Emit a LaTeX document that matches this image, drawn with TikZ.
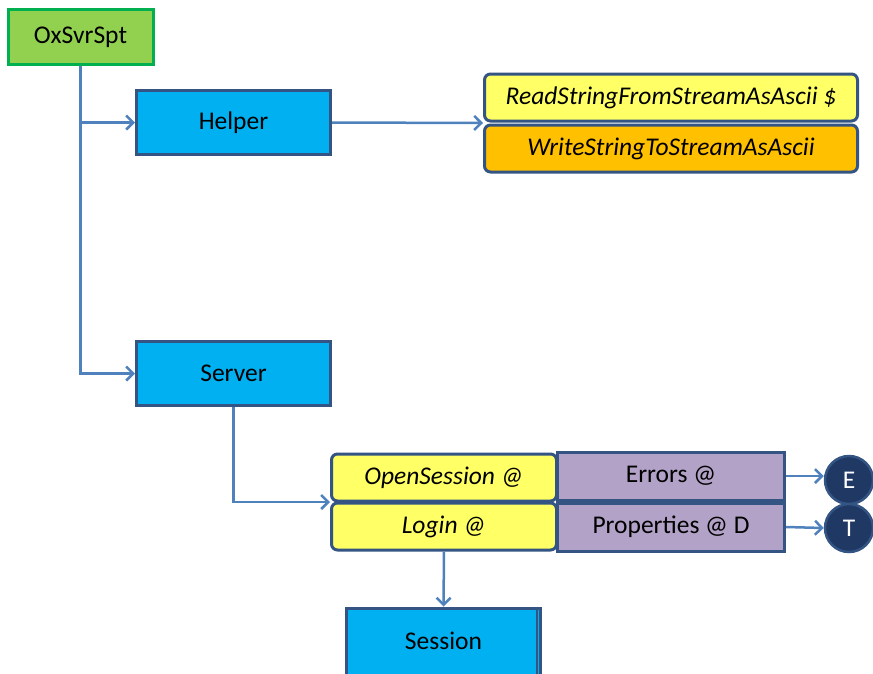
\documentclass[tikz,border=0pt]{standalone}
\usepackage{fontspec}
\setmainfont{Carlito}
\usepackage{xcolor}
\usepackage{tikz}
\usetikzlibrary{arrows.meta, positioning, calc}
\definecolor{linkblue}{RGB}{79,129,189}
\definecolor{edgeblue}{RGB}{52,84,132}
\definecolor{classblue}{RGB}{0,176,240}
\definecolor{rootgreen}{RGB}{146,208,80}
\definecolor{rootedge}{RGB}{0,176,80}
\definecolor{funcyellow}{RGB}{255,255,102}
\definecolor{funcorange}{RGB}{255,192,0}
\definecolor{proplilac}{RGB}{179,162,199}
\definecolor{extnavy}{RGB}{31,56,100}

\begin{document}
\begin{tikzpicture}[x=1pt, y=-1pt,
    every node/.style={font=\fontsize{25.5}{30}\selectfont, inner sep=0pt},
    rootbox/.style={draw=rootedge, fill=rootgreen, line width=3pt, minimum width=145, minimum height=55},
    classbox/.style={draw=edgeblue, fill=classblue, line width=3pt, minimum width=194, minimum height=64},
    funcbox/.style={draw=edgeblue, line width=3pt, rounded corners=6pt, minimum width=373, minimum height=47, font=\fontsize{25.5}{30}\selectfont\itshape},
    methbox/.style={draw=edgeblue, fill=funcyellow, line width=3pt, rounded corners=6pt, minimum width=225, minimum height=47, font=\fontsize{25.5}{30}\selectfont\itshape},
    propbox/.style={draw=edgeblue, fill=proplilac, line width=3pt, minimum width=227, minimum height=48},
    extnode/.style={circle, draw=edgeblue, fill=extnavy, line width=2.5pt, minimum size=48, text=white},
    link/.style={draw=linkblue, line width=2.5pt, -{Straight Barb[length=7pt, width=14pt]}}
]
    \useasboundingbox (0,0) rectangle (873,673);

    % Root
    \node[rootbox] (root) at (80.5,37) {OxSvrSpt};

    % Classes
    \node[classbox] (helper) at (233.5,122.5) {Helper};
    \node[classbox] (server) at (233.5,373.5) {Server};
    \node[classbox, minimum height=70] (session) at (443.5,643) {};
    \node at (443.5,641) {Session};
    \draw[draw=edgeblue, line width=1.5pt] ([xshift=-5pt]session.north east) -- ([xshift=-5pt]session.south east);

    % Helper functions
    \node[funcbox, fill=funcyellow] (readstr) at (671,97.5) {ReadStringFromStreamAsAscii \$};
    \node[funcbox, fill=funcorange] (writestr) at (671,148.5) {WriteStringToStreamAsAscii};

    % Server methods and properties
    \node[methbox] (opensess) at (444,477.5) {OpenSession @};
    \node[methbox] (login) at (444,526.5) {Login @};
    \node[propbox] (errors) at (671,476) {Errors @};
    \node[propbox] (props) at (671,527) {Properties @ D};

    % Collections
    \node[extnode] (errcol) at (849,480) {E};
    \node[extnode] (propcol) at (849,528) {T};

    % Connectors
    \coordinate (helperin) at ($(readstr.south west)!0.5!(writestr.north west)$);
    \coordinate (serverin) at ($(opensess.south west)!0.5!(login.north west)$);
    \draw[link] (root.south) |- (helper.west);
    \draw[link] (root.south) |- (server.west);
    \draw[link] (helper.east) -- (helperin);
    \draw[link] (server.south) |- (serverin);
    \draw[link] (errors.east) -- (errors.east -| errcol.west);
    \draw[link] (props.east) -- (propcol.west);
    \draw[link] (login.south) -- (session.north);
\end{tikzpicture}
\end{document}
